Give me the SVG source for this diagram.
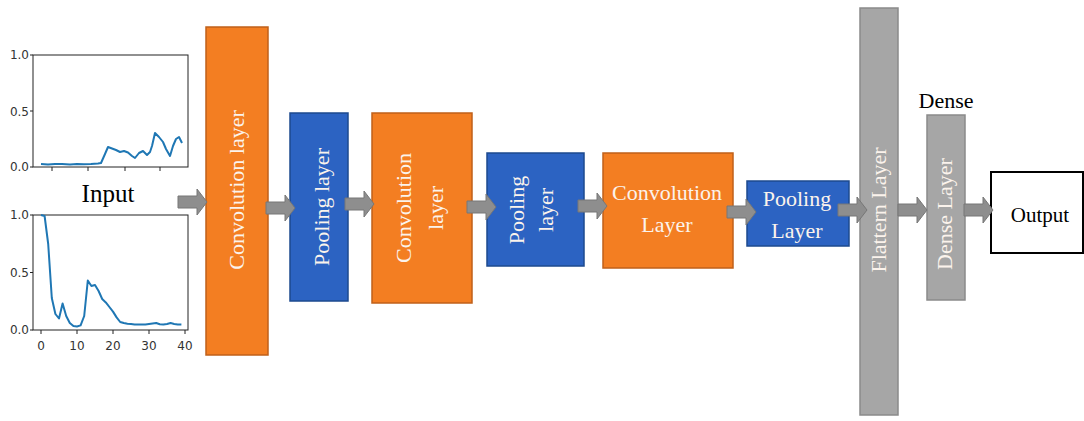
<svg xmlns="http://www.w3.org/2000/svg" width="1084" height="421" viewBox="0 0 1084 421">
<style>
.conv{fill:#F37E22;stroke:#C0601A;stroke-width:1.5}
.pool{fill:#2C63C2;stroke:#1D4A8E;stroke-width:1.5}
.gray{fill:#A6A6A6;stroke:#8A8A8A;stroke-width:1.5}
.lbl{font-family:"Liberation Serif","Times New Roman",serif;font-size:22px;fill:#FBF3EC;text-anchor:middle}
.blk{font-family:"Liberation Serif","Times New Roman",serif;fill:#000;text-anchor:middle}
.ax{fill:none;stroke:#222;stroke-width:1}
.tk{font-family:"DejaVu Sans",sans-serif;font-size:12px;fill:#333}
.curve{fill:none;stroke:#1F77B4;stroke-width:2;stroke-linejoin:round}
.arr{fill:#8E8E8E;stroke:#777;stroke-width:1}
</style>
<defs>
<path id="arrow" d="M0,-6 H19 V-13 L29,0 L19,13 V6 H0 Z"/>
</defs>
<rect width="1084" height="421" fill="#fff"/>

<g id="input-chart-top">
<rect class="ax" x="33" y="55" width="155" height="112"/>
<line class="ax" x1="30" y1="55" x2="33" y2="55"/>
<line class="ax" x1="30" y1="111" x2="33" y2="111"/>
<line class="ax" x1="30" y1="167" x2="33" y2="167"/>
<line class="ax" x1="52" y1="167" x2="52" y2="171"/>
<line class="ax" x1="88" y1="167" x2="88" y2="171"/>
<line class="ax" x1="125" y1="167" x2="125" y2="171"/>
<line class="ax" x1="160" y1="167" x2="160" y2="171"/>
<text class="tk" x="29" y="59" text-anchor="end">1.0</text>
<text class="tk" x="29" y="116" text-anchor="end">0.5</text>
<text class="tk" x="29" y="171" text-anchor="end">0.0</text>
<polyline class="curve" points="41,164 48,164.5 55,164 62,164 70,164.5 77,164 84,164.3 91,164 98,163.5 101,163 105,154 108,147 112,148.5 116,150 120,152 124,151 128,152.5 132,156 135,158 139,153 143,151 147,155 150,152 152,146 155,133 159,137 163,142 166,149 170,156 173,146 176,139 179,137 182,143"/>
</g>

<g id="input-chart-bottom">
<rect class="ax" x="33" y="215" width="155" height="115"/>
<line class="ax" x1="30" y1="215" x2="33" y2="215"/>
<line class="ax" x1="30" y1="272.5" x2="33" y2="272.5"/>
<line class="ax" x1="30" y1="330" x2="33" y2="330"/>
<line class="ax" x1="41" y1="330" x2="41" y2="334"/>
<line class="ax" x1="77" y1="330" x2="77" y2="334"/>
<line class="ax" x1="113" y1="330" x2="113" y2="334"/>
<line class="ax" x1="149" y1="330" x2="149" y2="334"/>
<line class="ax" x1="185" y1="330" x2="185" y2="334"/>
<text class="tk" x="29" y="219" text-anchor="end">1.0</text>
<text class="tk" x="29" y="277" text-anchor="end">0.5</text>
<text class="tk" x="29" y="334" text-anchor="end">0.0</text>
<text class="tk" x="41" y="350" text-anchor="middle">0</text>
<text class="tk" x="77" y="350" text-anchor="middle">10</text>
<text class="tk" x="113" y="350" text-anchor="middle">20</text>
<text class="tk" x="149" y="350" text-anchor="middle">30</text>
<text class="tk" x="185" y="350" text-anchor="middle">40</text>
<polyline class="curve" points="41,215 44.6,216 48.2,244 51.8,298 55.4,314 59,318.5 62.6,303.5 66.2,316 69.8,323 73.4,326 77,326.5 80.6,325.4 84.2,316 87.8,280.5 91.4,286 95,285 98.6,291 102.2,299 105.8,302.4 109.4,307 113,311.6 116.6,317.4 120.2,322 123.8,323 127.4,323.7 131,324 134.6,324.5 138.2,324.5 141.8,324.6 145.4,324.5 149,324 152.6,323.5 156.2,323 159.8,324.3 163.4,324.5 167,324 170.6,323 174.2,324 177.8,324.5 181.4,324.6"/>
</g>

<g id="input-label"><text class="blk" x="108" y="202" font-size="25">Input</text></g>

<g id="conv1">
<rect class="conv" x="206" y="27" width="62" height="328"/>
<text class="lbl" transform="translate(244,190) rotate(-90)">Convolution layer</text>
</g>
<g id="pool1">
<rect class="pool" x="290" y="113" width="58" height="188"/>
<text class="lbl" transform="translate(329,207) rotate(-90)">Pooling layer</text>
</g>
<g id="conv2">
<rect class="conv" x="372" y="113" width="100" height="190"/>
<text class="lbl" transform="translate(411,208) rotate(-90)">Convolution</text>
<text class="lbl" transform="translate(443,208) rotate(-90)">layer</text>
</g>
<g id="pool2">
<rect class="pool" x="487" y="153" width="97" height="113"/>
<text class="lbl" transform="translate(524,210) rotate(-90)">Pooling</text>
<text class="lbl" transform="translate(553,210) rotate(-90)">layer</text>
</g>
<g id="conv3">
<rect class="conv" x="603" y="153" width="130" height="115"/>
<text class="lbl" x="667" y="200">Convolution</text>
<text class="lbl" x="667" y="232">Layer</text>
</g>
<g id="pool3">
<rect class="pool" x="747" y="181" width="102" height="65"/>
<text class="lbl" x="797" y="206">Pooling</text>
<text class="lbl" x="797" y="238">Layer</text>
</g>
<g id="flatten">
<rect class="gray" x="860" y="8" width="38" height="407"/>
<text class="lbl" font-size="21" transform="translate(886,210) rotate(-90)">Flattern Layer</text>
</g>
<g id="dense">
<rect class="gray" x="927" y="115" width="38" height="185"/>
<text class="lbl" font-size="21" transform="translate(952,214) rotate(-90)">Dense Layer</text>
<text class="blk" x="946" y="108" font-size="22">Dense</text>
</g>
<g id="output">
<rect x="991" y="172" width="92" height="81" fill="#fff" stroke="#000" stroke-width="2"/>
<text class="blk" x="1040" y="222" font-size="21">Output</text>
</g>

<g id="connectors" class="arr">
<use href="#arrow" transform="translate(178,202)"/>
<use href="#arrow" transform="translate(266,208)"/>
<use href="#arrow" transform="translate(345,204)"/>
<use href="#arrow" transform="translate(467,207)"/>
<use href="#arrow" transform="translate(578,206)"/>
<use href="#arrow" transform="translate(727,212)"/>
<use href="#arrow" transform="translate(838,210)"/>
<use href="#arrow" transform="translate(898,210)"/>
<use href="#arrow" transform="translate(964,210)"/>
</g>
</svg>
